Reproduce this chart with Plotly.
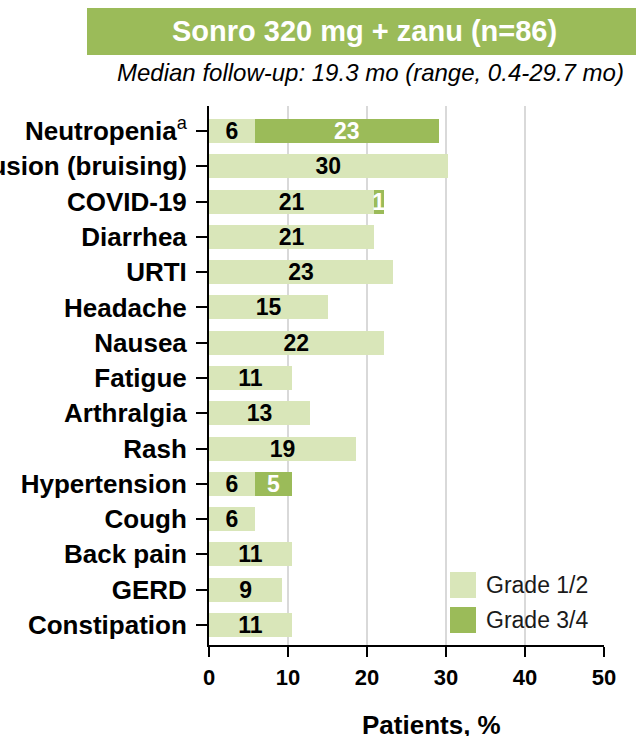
import plotly.graph_objects as go

# ---- data (percent of patients, n=86) ----
categories = ["Neutropenia<span style=\"font-weight:normal\"><sup>a</sup></span>",
              "Contusion (bruising)", "COVID-19", "Diarrhea", "URTI", "Headache",
              "Nausea", "Fatigue", "Arthralgia", "Rash", "Hypertension", "Cough",
              "Back pain", "GERD", "Constipation"]
grade12 = [5.8, 30.2, 20.9, 20.9, 23.3, 15.1, 22.1, 10.5, 12.8, 18.6, 5.8, 5.8, 10.5, 9.3, 10.5]
grade34 = [23.3, None, 1.2, None, None, None, None, None, None, None, 4.7, None, None, None, None]
grade12_labels = ["6", "30", "21", "21", "23", "15", "22", "11", "13", "19", "6", "6", "11", "9", "11"]
grade34_labels = ["23", "", "1", "", "", "", "", "", "", "", "5", "", "", "", ""]
series_names = ["Grade 1/2", "Grade 3/4"]
x_ticks = [0, 10, 20, 30, 40, 50]
title_text = "Sonro 320 mg + zanu (n=86)"
subtitle_text = "Median follow-up: 19.3 mo (range, 0.4-29.7 mo)"
x_title = "Patients, %"

LIGHT = "#D9E6B9"
DARK = "#9BBB59"
FONT = "Liberation Sans, Arial, Helvetica, sans-serif"

W, H = 636, 736
L, R, T, B = 209, 32, 106, 91
pw, ph = W - L - R, H - T - B


def px(xp):
    return (xp - L) / pw


def py(yp):
    return (H - B - yp) / ph


fig = go.Figure()
fig.add_trace(go.Bar(
    y=categories, x=grade12, orientation="h", name=series_names[0],
    marker=dict(color=LIGHT, line=dict(width=0)), width=0.68,
    text=grade12_labels, textposition="inside", insidetextanchor="middle",
    constraintext="none", textangle=0,
    textfont=dict(family=FONT, size=23, color="black", weight="bold"),
    showlegend=False, hoverinfo="skip",
))
fig.add_trace(go.Bar(
    y=categories, x=grade34, orientation="h", name=series_names[1],
    marker=dict(color=DARK, line=dict(width=0)), width=0.68,
    text=grade34_labels, textposition="inside", insidetextanchor="middle",
    constraintext="none", textangle=0,
    textfont=dict(family=FONT, size=23, color="white", weight="bold"),
    showlegend=False, hoverinfo="skip",
))

n = len(categories)
fig.update_layout(
    template="none",
    width=W, height=H,
    margin=dict(l=L, r=R, t=T, b=B, pad=0),
    barmode="stack",
    paper_bgcolor="white", plot_bgcolor="white",
    font=dict(family=FONT, color="black"),
    xaxis=dict(range=[0, 50], tickvals=x_ticks, showgrid=True, gridcolor="#D9D9D9",
               gridwidth=2, zeroline=False, showline=True, linecolor="black",
               linewidth=2, ticks="outside", ticklen=10, tickwidth=2, tickcolor="black",
               tickfont=dict(family=FONT, size=22, color="black", weight="bold"),
               ticklabelstandoff=2, automargin=False),
    yaxis=dict(categoryorder="array", categoryarray=categories,
               range=[n - 1 + 0.57, -0.71], autorange=False,
               showgrid=False, zeroline=False, showline=True, linecolor="black",
               linewidth=2, ticks="outside", ticklen=11, tickwidth=2, tickcolor="black",
               tickfont=dict(family=FONT, size=26, color="black", weight="bold"),
               ticklabelstandoff=4, automargin=False),
)

# title banner
fig.add_shape(type="rect", xref="paper", yref="paper",
              x0=px(87), x1=px(640), y0=py(55), y1=py(8),
              fillcolor=DARK, line=dict(width=0), layer="above")
fig.add_annotation(xref="paper", yref="paper", x=px(364), y=py(31),
                   text=f"<b>{title_text}</b>", showarrow=False,
                   xanchor="center", yanchor="middle",
                   font=dict(family=FONT, size=29, color="white"))
fig.add_annotation(xref="paper", yref="paper", x=px(370), y=py(73),
                   text=f"<i>{subtitle_text}</i>", showarrow=False,
                   xanchor="center", yanchor="middle",
                   font=dict(family=FONT, size=24, color="black"))

# custom legend
for i, (name, col) in enumerate(zip(series_names, [LIGHT, DARK])):
    y0 = 572 + i * 35
    fig.add_shape(type="rect", xref="paper", yref="paper",
                  x0=px(450), x1=px(476), y0=py(y0 + 26), y1=py(y0),
                  fillcolor=col, line=dict(width=0), layer="above")
    fig.add_annotation(xref="paper", yref="paper", x=px(484), y=py(y0 + 13),
                       text=name, showarrow=False, xanchor="left", yanchor="middle",
                       font=dict(family=FONT, size=23, color="#1a1a1a"))

# x-axis title
fig.add_annotation(xref="paper", yref="paper", x=px(431), y=py(725),
                   text=f"<b>{x_title}</b>", showarrow=False,
                   xanchor="center", yanchor="middle",
                   font=dict(family=FONT, size=26, color="black"))

fig.write_html("out.html", config={"displayModeBar": False},
               post_script="document.body.style.margin='0';document.body.style.overflow='hidden';")
